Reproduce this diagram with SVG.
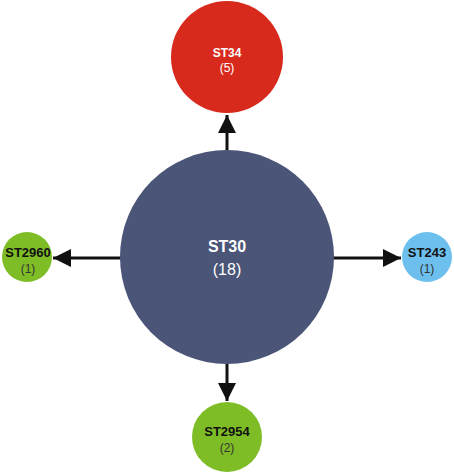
<svg xmlns="http://www.w3.org/2000/svg" width="454" height="475" viewBox="0 0 454 475">
<style>
.lbl{font-family:"Liberation Sans",Arial,sans-serif;font-weight:bold;text-anchor:middle}
.cnt{font-family:"Liberation Sans",Arial,sans-serif;text-anchor:middle}
.w{fill:#ffffff}
.k{fill:#111111}
.g{fill:#333333}
.edge{stroke:#111111;stroke-width:3;fill:none}
</style>
<defs>
<marker id="ah" viewBox="0 0 10 10" refX="10" refY="5" markerWidth="6" markerHeight="6" markerUnits="strokeWidth" orient="auto">
<path d="M0,0 L10,5 L0,10 Z" fill="#111111"/>
</marker>
</defs>
<rect width="454" height="475" fill="#ffffff"/>
<g id="connectors">
<line class="edge" x1="227" y1="151" x2="227" y2="115" marker-end="url(#ah)"/>
<line class="edge" x1="121" y1="258" x2="53" y2="258" marker-end="url(#ah)"/>
<line class="edge" x1="333" y1="258" x2="401" y2="258" marker-end="url(#ah)"/>
<line class="edge" x1="227" y1="362" x2="227" y2="401" marker-end="url(#ah)"/>
</g>
<g id="ST30">
<circle cx="227" cy="257" r="107" fill="#4a5578"/>
<text class="lbl w" x="227" y="252" font-size="16">ST30</text>
<text class="cnt w" x="227" y="275" font-size="16">(18)</text>
</g>
<g id="ST34">
<circle cx="227" cy="57" r="56" fill="#d82a1c"/>
<text class="lbl w" x="227" y="57" font-size="12">ST34</text>
<text class="cnt w" x="227" y="72" font-size="12">(5)</text>
</g>
<g id="ST2960">
<circle cx="27" cy="257" r="25" fill="#7ebd26"/>
<text class="lbl k" x="28" y="257" font-size="13">ST2960</text>
<text class="cnt g" x="28" y="273" font-size="12">(1)</text>
</g>
<g id="ST243">
<circle cx="427" cy="257" r="25" fill="#6dbfee"/>
<text class="lbl k" x="427" y="257" font-size="13">ST243</text>
<text class="cnt g" x="427" y="273" font-size="12">(1)</text>
</g>
<g id="ST2954">
<circle cx="227" cy="437" r="35" fill="#7ebd26"/>
<text class="lbl k" x="227" y="436" font-size="13">ST2954</text>
<text class="cnt g" x="227" y="452" font-size="12">(2)</text>
</g>
</svg>
